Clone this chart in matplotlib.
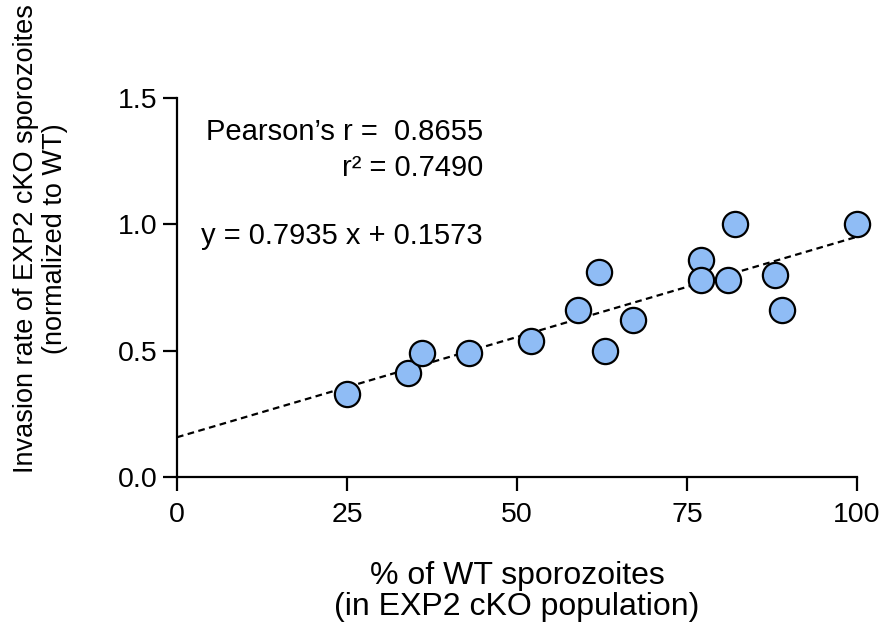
import matplotlib.pyplot as plt
import numpy as np

plt.rcParams['font.family'] = ['Liberation Sans', 'DejaVu Sans']

# % of WT sporozoites and normalized invasion rate
wt_percent = [25, 34, 36, 43, 52, 59, 62, 63, 67, 77, 77, 81, 82, 88, 89, 100]
invasion = [0.33, 0.41, 0.49, 0.49, 0.54, 0.66, 0.81, 0.50, 0.62, 0.86, 0.78, 0.78, 1.00, 0.80, 0.66, 1.00]

slope = 0.7935
intercept = 0.1573
x_ticks = [0, 25, 50, 75, 100]
y_ticks = [0.0, 0.5, 1.0, 1.5]

fig = plt.figure(figsize=(8.82, 6.23), dpi=100)
ax = fig.add_axes([177/882, 1 - 477/623, 680/882, 379/623])

xfit = np.array([0, 100])
ax.plot(xfit, slope * xfit / 100 + intercept, color='black', lw=1.6,
        dashes=(3, 2), zorder=2)
ax.scatter(wt_percent, invasion, s=330, facecolor='#8fbcf5', edgecolor='black',
           linewidth=1.6, zorder=3, clip_on=False)

ax.set_xlim(0, 100)
ax.set_ylim(0, 1.5)
ax.set_xticks(x_ticks)
ax.set_yticks(y_ticks)
ax.set_xticklabels([str(t) for t in x_ticks])
ax.set_yticklabels([f'{t:.1f}' for t in y_ticks])

for s in ['top', 'right']:
    ax.spines[s].set_visible(False)
for s in ['left', 'bottom']:
    ax.spines[s].set_linewidth(1.6)
ax.tick_params(direction='out', length=10, width=1.6, labelsize=20.5)
ax.tick_params(axis='x', pad=8)
ax.tick_params(axis='y', pad=4)

ax.text(45, 1.365, "Pearson\u2019s r =  0.8655", ha='right', va='center', fontsize=21)
ax.text(45, 1.223, "r\u00b2 = 0.7490", ha='right', va='center', fontsize=21)
ax.text(45, 0.954, "y = 0.7935 x + 0.1573", ha='right', va='center', fontsize=21)

ax.set_xlabel("% of WT sporozoites\n(in EXP2 cKO population)", fontsize=23,
              linespacing=1.05)
ax.xaxis.set_label_coords(0.5, -0.222)
ax.set_ylabel("Invasion rate of EXP2 cKO sporozoites\n(normalized to WT)", fontsize=19.5,
              linespacing=1.15)
ax.yaxis.set_label_coords(-0.16, 0.628)

fig.savefig('out.png', dpi=100)
